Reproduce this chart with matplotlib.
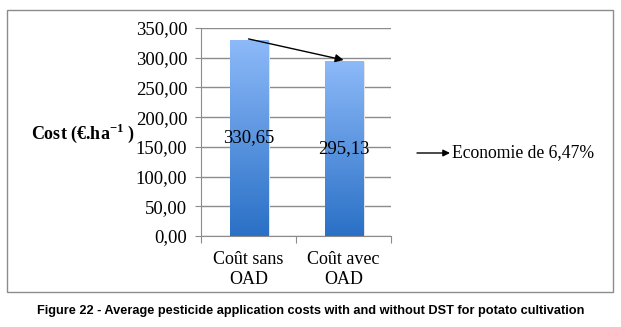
import numpy as np
import matplotlib.pyplot as plt
from matplotlib.colors import LinearSegmentedColormap
from matplotlib.patches import Rectangle

# data
categories = ["Coût sans\nOAD", "Coût avec\nOAD"]
costs = [330.65, 295.13]
value_labels = ["330,65", "295,13"]
yticks = [0, 50, 100, 150, 200, 250, 300, 350]
saving_text = "Economie de 6,47%"
caption = "Figure 22 - Average pesticide application costs with and without DST for potato cultivation"

serif = ["Liberation Serif", "DejaVu Serif"]

fig = plt.figure(figsize=(6.21, 3.27), dpi=100)
ax = fig.add_axes([0.3237, 0.2783, 0.306, 0.636])

# outer frame
fig.patches.append(Rectangle((7 / 621, 1 - 292 / 327), 606 / 621, 282 / 327,
                             transform=fig.transFigure, fill=False,
                             edgecolor="#8c8c8c", linewidth=1.0))

x = np.arange(len(categories))
bars = ax.bar(x, costs, width=0.4, color="none", zorder=3)

grad = LinearSegmentedColormap.from_list("blu", ["#2a70c6", "#8dbaf9"])
for b in bars:
    x0, y0 = b.get_x(), b.get_y()
    w, h = b.get_width(), b.get_height()
    # small shadow on the right side
    ax.add_patch(Rectangle((x0 + w, y0), 0.03, h * 0.995, color="#e4e4e4", zorder=2, linewidth=0))
    im = ax.imshow(np.linspace(0, 1, 256).reshape(-1, 1), cmap=grad, origin="lower",
                   extent=[x0, x0 + w, y0, y0 + h], aspect="auto", zorder=3)
    im.set_clip_path(b)

for xi, v, lab in zip(x, costs, value_labels):
    ax.text(xi, v / 2, lab, ha="center", va="center", fontsize=13.5,
            family=serif, zorder=5)

# arrow between bar tops
ax.annotate("", xy=(x[1], costs[1] + 1), xytext=(x[0], costs[0] + 1),
            arrowprops=dict(arrowstyle="-|>", color="black", lw=1.0,
                            mutation_scale=12, shrinkA=0, shrinkB=0), zorder=6)

ax.set_xlim(-0.5, 1.5)
ax.set_ylim(0, 350)
ax.set_yticks(yticks)
ax.set_yticklabels([f"{t:.2f}".replace(".", ",") for t in yticks], family=serif, fontsize=13.5)
ax.yaxis.grid(True, color="#8c8c8c", linewidth=1.0, zorder=0)
ax.set_axisbelow(True)
ax.tick_params(axis="y", length=4, color="#8c8c8c", pad=6)

ax.set_xticks([-0.5, 0.5, 1.5])
ax.set_xticklabels([])
ax.set_xticks(x, minor=True)
ax.set_xticklabels(categories, minor=True, family=serif, fontsize=13, linespacing=1.2)
ax.tick_params(axis="x", which="major", length=5, color="#8c8c8c")
ax.tick_params(axis="x", which="minor", length=0, pad=11)

for s in ["top", "right"]:
    ax.spines[s].set_visible(False)
for s in ["left", "bottom"]:
    ax.spines[s].set_color("#8c8c8c")

fig.text(31 / 621, 1 - 133 / 327, r"Cost (€.ha$^{\mathregular{-1}}$ )", family=serif,
         fontsize=13, fontweight="bold", va="center", ha="left")

ax.annotate("", xy=(450 / 621, 1 - 153 / 327), xytext=(417 / 621, 1 - 153 / 327),
            xycoords="figure fraction", textcoords="figure fraction",
            arrowprops=dict(arrowstyle="-|>", color="black", lw=1.0,
                            mutation_scale=10, shrinkA=0, shrinkB=0))
fig.text(452 / 621, 1 - 153 / 327, saving_text, family=serif, fontsize=12.7,
         va="center", ha="left")

fig.text(0.5, 1 - 311 / 327, caption, ha="center", va="center",
         family=["Liberation Sans Narrow", "Liberation Sans", "DejaVu Sans"],
         fontsize=9.2, fontweight="bold")

fig.savefig("out.png", dpi=100)
